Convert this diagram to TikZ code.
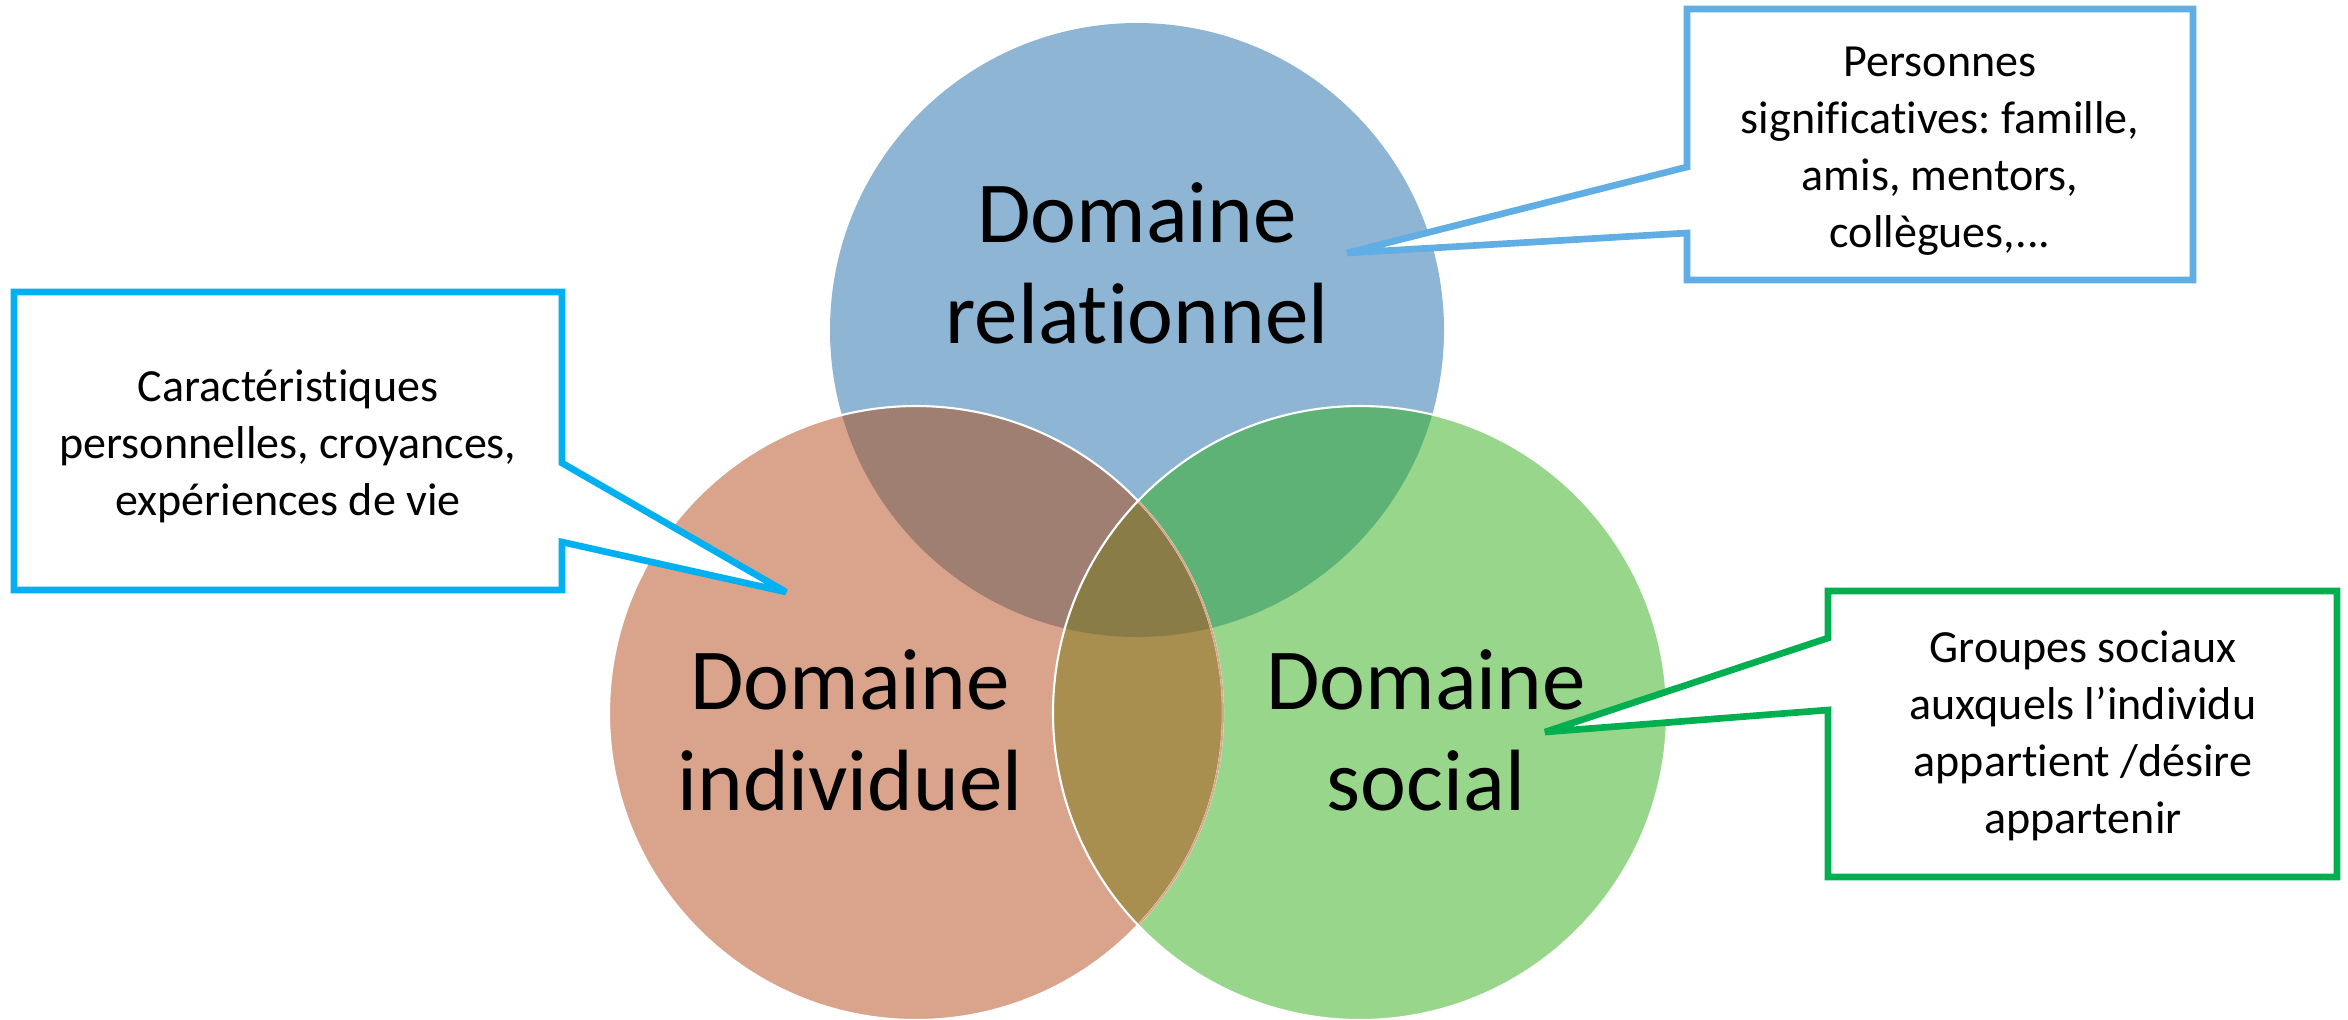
\documentclass[tikz,border=0pt]{standalone}
\usepackage{fontspec}
\setmainfont{Carlito}[Ligatures=NoCommon]
\frenchspacing
\definecolor{cA}{HTML}{8EB5D3}
\definecolor{cB}{HTML}{D9A48B}
\definecolor{cC}{HTML}{98D68B}
\definecolor{cAB}{HTML}{A07F73}
\definecolor{cAC}{HTML}{5EB276}
\definecolor{cBC}{HTML}{A88F50}
\definecolor{cABC}{HTML}{8A7C47}
\definecolor{boxblue}{HTML}{61AEE4}
\definecolor{boxcyan}{HTML}{00B0F0}
\definecolor{boxgreen}{HTML}{00B050}
\begin{document}
\begin{tikzpicture}[x=0.02cm,y=-0.02cm,
  big/.style={font=\fontsize{49.5}{57}\selectfont, align=center, inner sep=0pt, anchor=base},
  small/.style={font=\fontsize{26.2}{32.4}\selectfont, align=center, inner sep=0pt, anchor=base},
  callout/.style={fill=white, line width=3.8pt, line join=miter, miter limit=4}]
\useasboundingbox (0,0) rectangle (2348,1019);
\def\R{307}
\coordinate (A) at (1137,330);
\coordinate (B) at (916,713);
\coordinate (C) at (1360,713);
% base fills
\fill[cA] (A) circle[radius=\R];
\fill[cB] (B) circle[radius=\R];
\fill[cC] (C) circle[radius=\R];
% pairwise overlaps
\begin{scope}\clip (A) circle[radius=\R];
  \fill[cAB] (B) circle[radius=\R];
  \fill[cAC] (C) circle[radius=\R];
\end{scope}
\begin{scope}\clip (B) circle[radius=\R];
  \fill[cBC] (C) circle[radius=\R];
  \clip (A) circle[radius=\R];
  \fill[cABC] (C) circle[radius=\R];
\end{scope}
% outlines
\draw[white, line width=1.2pt] (B) circle[radius=\R];
\begin{scope}\clip (C) circle[radius=\R];
  \draw[cB, line width=1pt] (B) circle[radius=\R];
\end{scope}
\draw[white, line width=1.2pt] (C) circle[radius=\R];
% circle labels (anchor = baseline of last line)
\node[big] (tA) at (1137,343) {Domaine\\relationnel};
\node[big] (tB) at (850,810) {Domaine\\individuel};
\node[big] (tC) at (1426,810) {Domaine\\social};
% callout tips
\coordinate (tipT) at (1347,253);
\coordinate (tipL) at (786,592);
\coordinate (tipR) at (1545,732);
% top callout
\draw[callout, draw=boxblue] (1687,9) -- (2193,9) -- (2193,280) -- (1687,280) -- (1687,233) -- (tipT) -- (1687,167) -- cycle;
\node[small] (cT) at (1940,247) {Personnes\\significatives: famille,\\amis, mentors,\\collègues,...};
% left callout
\draw[callout, draw=boxcyan] (14,292) -- (562,292) -- (562,463) -- (tipL) -- (562,542) -- (562,590) -- (14,590) -- cycle;
\node[small] (cL) at (288,515) {Caractéristiques\\personnelles, croyances,\\expériences de vie};
% right callout
\draw[callout, draw=boxgreen] (1828,591) -- (2337,591) -- (2337,877) -- (1828,877) -- (1828,710) -- (tipR) -- (1828,638) -- cycle;
\node[small] (cR) at (2083,833) {Groupes sociaux\\auxquels l’individu\\appartient /désire\\appartenir};
\end{tikzpicture}
\end{document}
